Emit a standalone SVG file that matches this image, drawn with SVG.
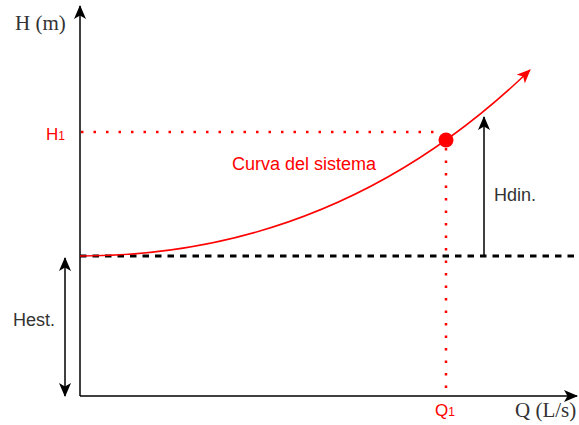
<svg xmlns="http://www.w3.org/2000/svg" width="579" height="425" viewBox="0 0 579 425">
<style>
.ax{stroke:#000;stroke-width:1.5;fill:none}
.red{fill:#ff0000;font-family:"Liberation Sans",Arial,sans-serif}
.lbl{fill:#333;font-family:"Liberation Sans",Arial,sans-serif;font-size:18px}
.ser{fill:#333;font-family:"Liberation Serif","Times New Roman",serif;font-size:21px}
.dot{stroke:#ff0000;stroke-width:2.5;stroke-dasharray:2.5 10;fill:none}
</style>
<defs>
<marker id="ah" viewBox="0 0 14 12" refX="13" refY="6" markerWidth="14" markerHeight="12" markerUnits="userSpaceOnUse" orient="auto-start-reverse">
<path d="M0,0 L14,6 L0,12 L3.5,6 Z" fill="#000"/>
</marker>
<marker id="ahr" viewBox="0 0 14 12" refX="13" refY="6" markerWidth="14" markerHeight="12" markerUnits="userSpaceOnUse" orient="auto">
<path d="M0,0 L14,6 L0,12 L3.5,6 Z" fill="#ff0000"/>
</marker>
</defs>
<rect width="579" height="425" fill="#fff"/>
<g id="connectors">
<line id="h1-line" class="dot" x1="81" y1="132" x2="440" y2="132"/>
<line id="q1-line" class="dot" x1="446" y1="148" x2="446" y2="396"/>
<line id="static-level" x1="80" y1="256" x2="579" y2="256" stroke="#000" stroke-width="3" stroke-dasharray="6.5 6"/>
<line id="y-axis" class="ax" x1="80" y1="396" x2="80" y2="6" marker-end="url(#ah)"/>
<line id="x-axis" class="ax" x1="80" y1="396" x2="577" y2="396" marker-end="url(#ah)"/>
<line id="hest-arrow" class="ax" x1="65" y1="258" x2="65" y2="396" marker-start="url(#ah)" marker-end="url(#ah)"/>
<line id="hdin-arrow" class="ax" x1="484" y1="256" x2="484" y2="117" marker-end="url(#ah)"/>
<path id="curve" d="M80,256 Q337,256 530,70" fill="none" stroke="#ff0000" stroke-width="1.5" marker-end="url(#ahr)"/>
</g>
<g id="point">
<circle cx="446" cy="140" r="7.5" fill="#ff0000"/>
</g>
<g id="labels">
<text class="ser" x="15" y="30">H (m)</text>
<text class="ser" x="515" y="417">Q (L/s)</text>
<text class="lbl" x="494" y="201">Hdin.</text>
<text class="lbl" x="13" y="326">Hest.</text>
<text class="red" x="232" y="170" font-size="18">Curva del sistema</text>
<text class="red" x="46" y="140" font-size="17">H<tspan font-size="12">1</tspan></text>
<text class="red" x="435" y="416" font-size="17">Q<tspan font-size="12">1</tspan></text>
</g>
</svg>
